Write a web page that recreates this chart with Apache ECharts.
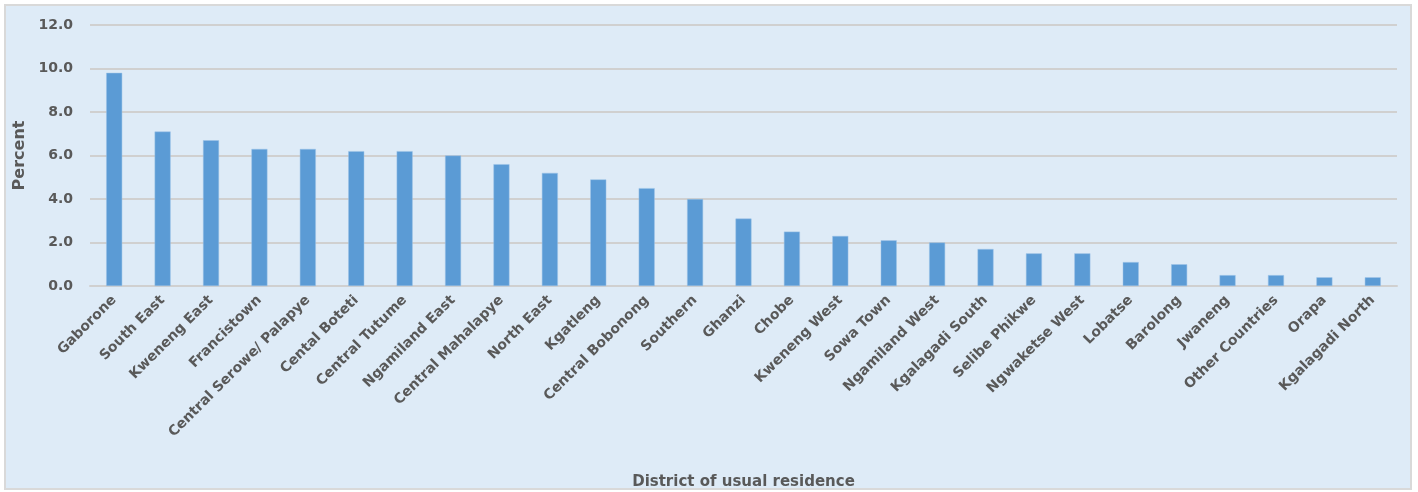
<!DOCTYPE html>
<html>
<head>
<meta charset="utf-8">
<script src="https://cdn.jsdelivr.net/npm/echarts@6/dist/echarts.min.js"></script>
<style>
  html, body { margin: 0; padding: 0; background: #ffffff; }
  #chart { position: absolute; left: 4px; top: 4px; width: 1408px; height: 486px;
           background: #deebf7; border: 2px solid #d9d9d9; box-sizing: border-box; }
</style>
</head>
<body>
<div id="chart"></div>
<script>
var districts = ['Gaborone', 'South East', 'Kweneng East', 'Francistown', 'Central Serowe/ Palapye',
  'Cental Boteti', 'Central Tutume', 'Ngamiland East', 'Central Mahalapye', 'North East',
  'Kgatleng', 'Central Bobonong', 'Southern', 'Ghanzi', 'Chobe', 'Kweneng West', 'Sowa Town',
  'Ngamiland West', 'Kgalagadi South', 'Selibe Phikwe', 'Ngwaketse West', 'Lobatse',
  'Barolong', 'Jwaneng', 'Other Countries', 'Orapa', 'Kgalagadi North'];
var percent = [9.8, 7.1, 6.7, 6.3, 6.3, 6.2, 6.2, 6.0, 5.6, 5.2, 4.9, 4.5, 4.0, 3.1, 2.5,
  2.3, 2.1, 2.0, 1.7, 1.5, 1.5, 1.1, 1.0, 0.5, 0.5, 0.4, 0.4];

(function(){
  var chartDom = document.getElementById('chart');
  var myChart = echarts.init(chartDom);
  var textColor = '#595959';
  var font = '"DejaVu Sans", sans-serif';
  var option = {
    animation: false,
    grid: { left: 84, right: 13, top: 19, bottom: 202, containLabel: false, outerBoundsMode: 'none' },
    xAxis: {
      type: 'category',
      data: districts,
      name: 'District of usual residence',
      nameLocation: 'middle',
      nameGap: 189,
      nameTextStyle: { color: textColor, fontSize: 15, fontWeight: 'bold', fontFamily: font },
      axisTick: { show: false },
      axisLine: { lineStyle: { color: '#d0d0d0', width: 2 } },
      axisLabel: {
        interval: 0, rotate: 45, margin: 12,
        color: textColor, fontSize: 14, fontWeight: 'bold', fontFamily: font
      }
    },
    yAxis: {
      type: 'value',
      min: 0, max: 12, interval: 2,
      name: 'Percent',
      nameLocation: 'middle',
      nameGap: 61,
      nameTextStyle: { color: textColor, fontSize: 16, fontWeight: 'bold', fontFamily: font },
      axisLine: { show: false },
      axisTick: { show: false },
      axisLabel: {
        color: textColor, fontSize: 14, fontWeight: 'bold', fontFamily: font, margin: 17,
        formatter: function (v) { return v.toFixed(1); }
      },
      splitLine: { lineStyle: { color: '#d0d0d0', width: 2 } }
    },
    series: [{
      type: 'bar',
      data: percent,
      barWidth: 16,
      itemStyle: { color: '#5b9bd5', borderColor: '#9cc3e6', borderWidth: 0.5 }
    }]
  };
  option && myChart.setOption(option);
})();
</script>
</body>
</html>
